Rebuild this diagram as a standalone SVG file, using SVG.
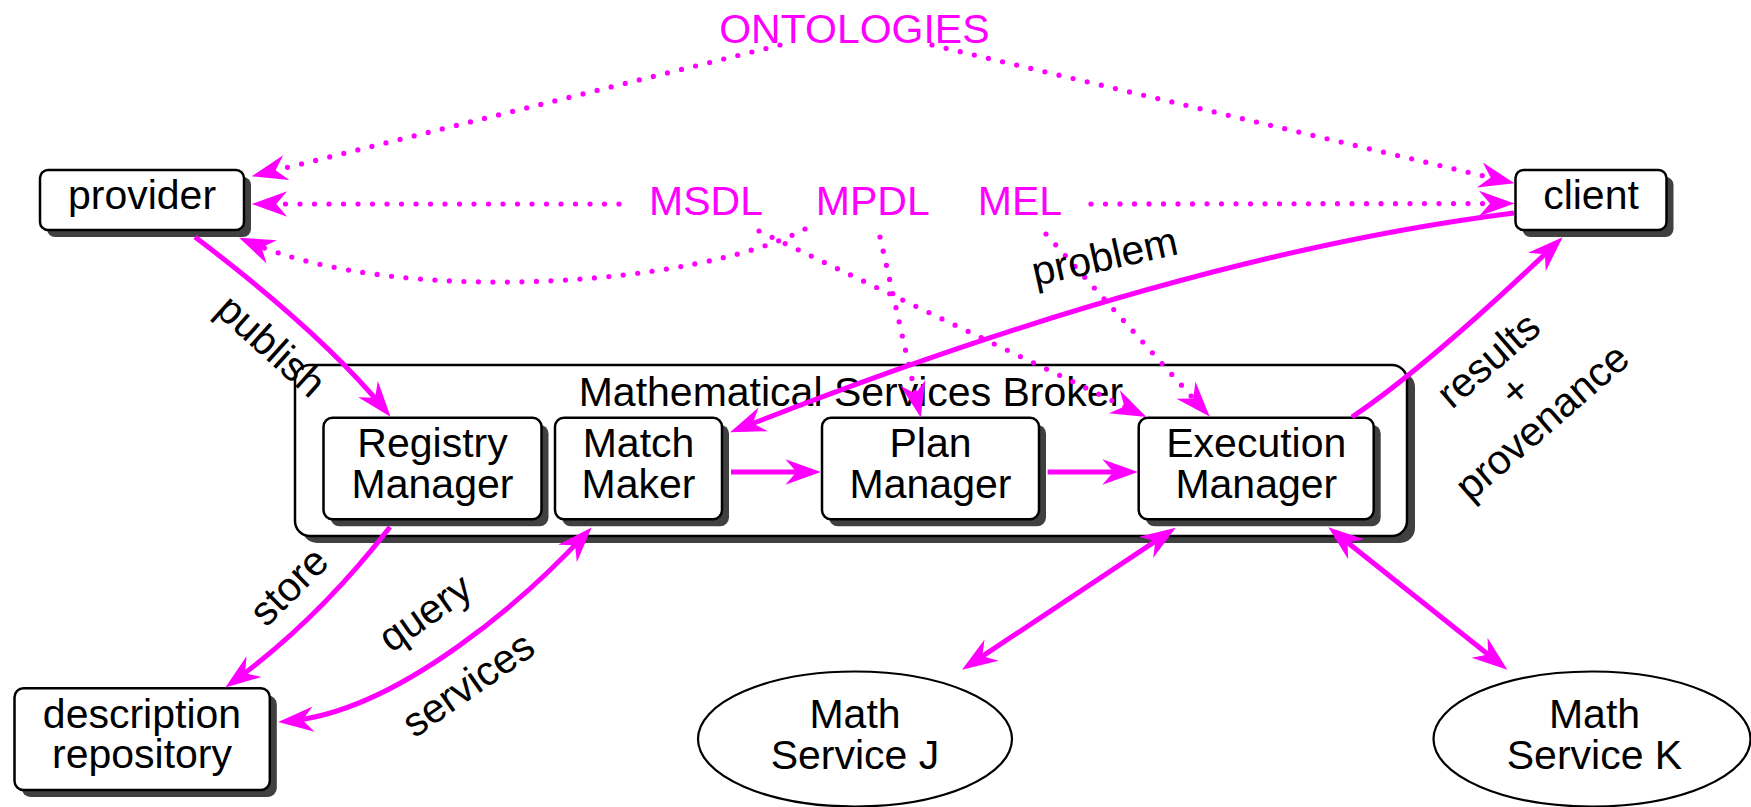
<svg xmlns="http://www.w3.org/2000/svg" width="1751" height="807" viewBox="0 0 1751 807">
<style>
text{font-family:"Liberation Sans",Arial,Helvetica,sans-serif;font-size:41px;fill:#000;text-anchor:middle}
.lang{fill:#ff00ff}
.box{fill:#fff;stroke:#000;stroke-width:2.5}
.sh{fill:#404040;stroke:none}
.ell{fill:#fff;stroke:#000;stroke-width:2.2}
.solid{fill:none;stroke:#ff00ff;stroke-width:5}
.dot{fill:none;stroke:#ff00ff;stroke-width:5.2;stroke-linecap:round;stroke-dasharray:0 14.5}
</style>
<defs>
<marker id="ah" markerUnits="userSpaceOnUse" markerWidth="40" markerHeight="30" viewBox="-26 -13 36 26" refX="0" refY="0" orient="auto-start-reverse">
<path d="M8,0 L-24,-11.5 L-14,0 L-24,11.5 Z" fill="#ff00ff"/>
</marker>
</defs>
<rect width="1751" height="807" fill="#fff"/>

<g id="broker">
<rect class="sh" x="302" y="372" width="1113" height="171" rx="15"/>
<rect class="box" x="295" y="365" width="1112" height="171" rx="15"/>
<text x="851" y="406">Mathematical Services Broker</text>
</g>

<g id="provider">
<rect class="sh" x="47" y="177" width="204" height="60" rx="8"/>
<rect class="box" x="40" y="170" width="204" height="60" rx="8"/>
<text x="142" y="209">provider</text>
</g>

<g id="client">
<rect class="sh" x="1522.5" y="177" width="151" height="60" rx="8"/>
<rect class="box" x="1515.5" y="170" width="151" height="60" rx="8"/>
<text x="1591" y="209">client</text>
</g>

<g id="registry-manager">
<rect class="sh" x="330.5" y="424.7" width="218" height="101.6" rx="9"/>
<rect class="box" x="323.5" y="417.7" width="218" height="101.6" rx="9"/>
<text x="432.5" y="457.3">Registry</text>
<text x="432.5" y="498.3">Manager</text>
</g>

<g id="match-maker">
<rect class="sh" x="562" y="424.7" width="167" height="101.6" rx="9"/>
<rect class="box" x="555" y="417.7" width="167" height="101.6" rx="9"/>
<text x="638.5" y="457.3">Match</text>
<text x="638.5" y="498.3">Maker</text>
</g>

<g id="plan-manager">
<rect class="sh" x="829" y="424.7" width="217" height="101.6" rx="9"/>
<rect class="box" x="822" y="417.7" width="217" height="101.6" rx="9"/>
<text x="930.5" y="457.3">Plan</text>
<text x="930.5" y="498.3">Manager</text>
</g>

<g id="execution-manager">
<rect class="sh" x="1145.7" y="424.7" width="235" height="101.6" rx="9"/>
<rect class="box" x="1138.7" y="417.7" width="235" height="101.6" rx="9"/>
<text x="1256.3" y="457.3">Execution</text>
<text x="1256.3" y="498.3">Manager</text>
</g>

<g id="description-repository">
<rect class="sh" x="21.5" y="695.3" width="255.3" height="101.7" rx="9"/>
<rect class="box" x="14.5" y="688.3" width="255.3" height="101.7" rx="9"/>
<text x="142" y="727.7">description</text>
<text x="142" y="768.3">repository</text>
</g>

<g id="math-service-j">
<ellipse class="ell" cx="855" cy="739" rx="157" ry="67.5"/>
<text x="855" y="728">Math</text>
<text x="855" y="769">Service J</text>
</g>

<g id="math-service-k">
<ellipse class="ell" cx="1592" cy="739" rx="158.5" ry="67.5"/>
<text x="1594.5" y="728.3">Math</text>
<text x="1594.5" y="769.3">Service K</text>
</g>

<g id="ontologies"><text class="lang" x="854.4" y="42.7">ONTOLOGIES</text></g>
<g id="msdl"><text class="lang" x="706" y="215">MSDL</text></g>
<g id="mpdl"><text class="lang" x="872.8" y="215">MPDL</text></g>
<g id="mel"><text class="lang" x="1020" y="215">MEL</text></g>

<g id="connectors">
<path class="solid" d="M195,237 Q322,333 384.9,409.8" marker-end="url(#ah)"/>
<path class="solid" d="M390,527 Q318,620 232.5,682.3" marker-end="url(#ah)"/>
<path class="solid" d="M585.6,533.9 C530,594 400,712 287,721.3" marker-start="url(#ah)" marker-end="url(#ah)"/>
<path class="solid" d="M1514,213 Q1180,255 738.4,429.1" marker-end="url(#ah)"/>
<path class="solid" d="M1352,417 Q1427,366.6 1556.2,243.5" marker-end="url(#ah)"/>
<path class="solid" d="M731,472 L812,472" marker-end="url(#ah)"/>
<path class="solid" d="M1047.6,472 L1129,472" marker-end="url(#ah)"/>
<path class="solid" d="M1168.3,532.7 L969.4,664.9" marker-start="url(#ah)" marker-end="url(#ah)"/>
<path class="solid" d="M1335.3,532.7 L1500.4,664.3" marker-start="url(#ah)" marker-end="url(#ah)"/>

<path class="dot" d="M780,45 L260.4,174.1" marker-end="url(#ah)"/>
<path class="dot" d="M932,45 L1505.8,181.2" marker-end="url(#ah)"/>
<path class="dot" d="M619,204 L260.6,204" marker-end="url(#ah)"/>
<path class="dot" d="M1091,204 L1505.6,203.5" marker-end="url(#ah)"/>
<path class="dot" d="M805,229 C700,285 400,308 247.3,241.2" marker-end="url(#ah)"/>
<path class="dot" d="M759,231 L1138.4,413.2" marker-end="url(#ah)"/>
<path class="dot" d="M880,237 L918.8,408.9" marker-end="url(#ah)"/>
<path class="dot" d="M1046,234 L1203.7,410" marker-end="url(#ah)"/>

<text transform="translate(262,356) rotate(42)">publish</text>
<text transform="translate(298.6,596) rotate(-45)">store</text>
<text transform="translate(433,624) rotate(-35)">query</text>
<text transform="translate(476,695.5) rotate(-35)">services</text>
<text transform="translate(1107.6,270) rotate(-12.5)">problem</text>
<g transform="translate(1515,390.7) rotate(-41)">
<text x="0" y="-27">results</text>
<text x="0" y="14">+</text>
<text x="0" y="55">provenance</text>
</g>
</g>
</svg>
